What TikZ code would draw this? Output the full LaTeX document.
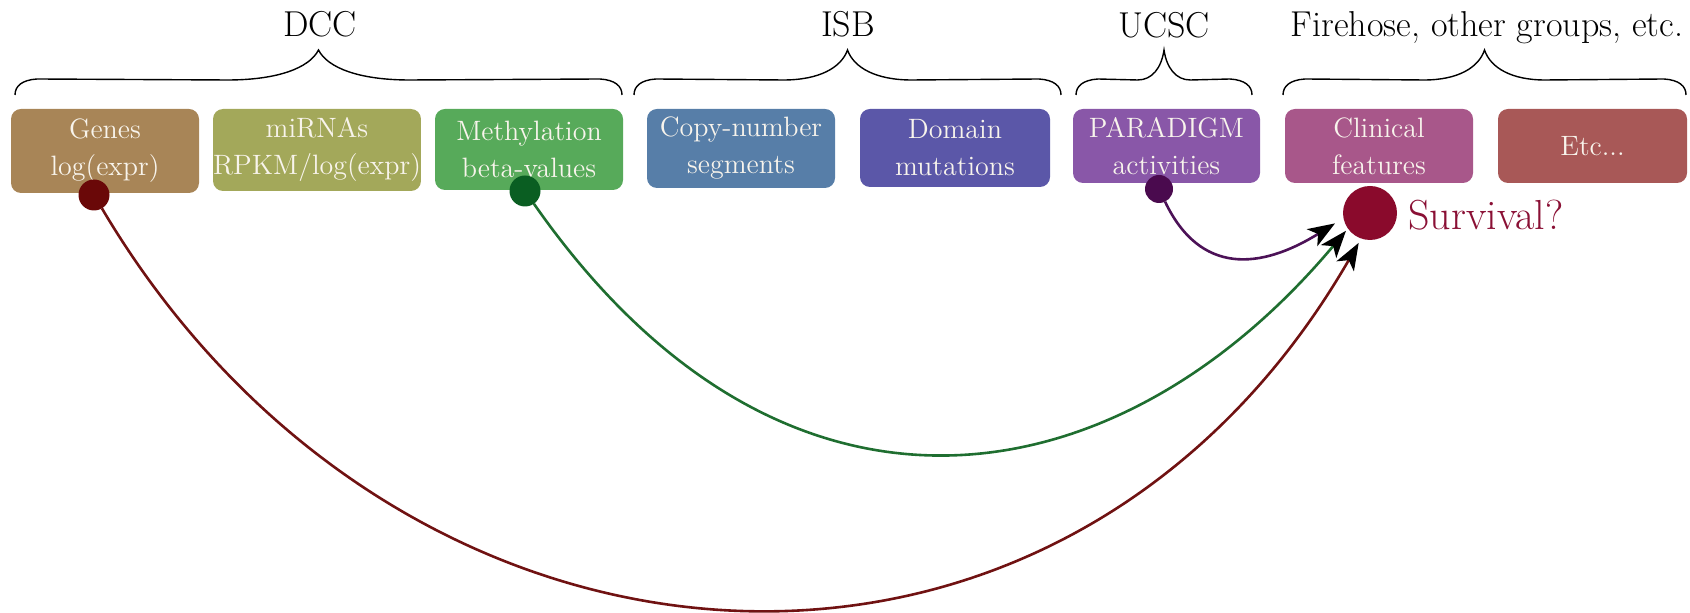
\documentclass[tikz,border=0pt]{standalone}
\usetikzlibrary{arrows.meta}
\definecolor{genesC}{HTML}{A88557}
\definecolor{mirnaC}{HTML}{A3A85A}
\definecolor{methC}{HTML}{57AA5A}
\definecolor{copyC}{HTML}{577EA8}
\definecolor{domainC}{HTML}{5B57A8}
\definecolor{paraC}{HTML}{8957A8}
\definecolor{clinC}{HTML}{A8578A}
\definecolor{etcC}{HTML}{A85857}
\definecolor{boxtext}{HTML}{F8F4EC}
\definecolor{gdotC}{HTML}{6A0808}
\definecolor{mdotC}{HTML}{0A5E22}
\definecolor{pdotC}{HTML}{4A0A4E}
\definecolor{survC}{HTML}{8A0A2C}
\definecolor{redL}{HTML}{701212}
\definecolor{greenL}{HTML}{1F6E30}
\definecolor{purpL}{HTML}{4C1257}
\definecolor{survT}{HTML}{8A1035}
\newcommand{\grpbrace}[2]{%
  \pgfmathsetmacro{\bm}{(#1+#2)/2}%
  \pgfmathsetmacro{\br}{0.15*(#2-#1)}%
  \draw[bracestyle] (#1,95) .. controls (#1,86) and (#1+7,80) .. (#1+22,79)
    -- (\bm-\br,80) .. controls (\bm-0.45*\br,80) and (\bm-0.1*\br,68) .. (\bm,50)
    .. controls (\bm+0.1*\br,68) and (\bm+0.45*\br,80) .. (\bm+\br,80)
    -- (#2-22,79) .. controls (#2-7,80) and (#2,86) .. (#2,95);}
\tikzset{
  databox/.style={rounded corners=5pt, inner sep=0pt, outer sep=0pt, text=boxtext,
    font=\fontsize{14}{18.5}\selectfont, align=center},
  grplabel/.style={font=\fontsize{18}{21}\selectfont, anchor=base, inner sep=0pt},
  bracestyle/.style={line width=0.7pt, black},
  srcdot/.style={circle, inner sep=0pt, outer sep=0pt, minimum size=#1},
  link/.style={line width=1.3pt, -{Stealth[length=13.5pt,width=10pt,inset=3.5pt,color=black]}},
}
\begin{document}
\begin{tikzpicture}[x=0.5pt,y=-0.5pt]
\useasboundingbox (0,0) rectangle (1690,613);
% group labels
\node[grplabel] (dcc) at (320,37) {DCC};
\node[grplabel] (isb) at (848,37) {ISB};
\node[grplabel] (ucsc) at (1164,38) {UCSC};
\node[grplabel] (fire) at (1487,37) {Firehose, other groups, etc.};
% braces
\grpbrace{15}{622}
\grpbrace{634}{1061}
\grpbrace{1076}{1252}
\grpbrace{1283}{1686}
% data boxes
\node[databox, fill=genesC, minimum width=94pt, minimum height=42pt] (genes) at (105,151) {Genes\\log(expr)};
\node[databox, fill=mirnaC, minimum width=101pt, minimum height=41pt] (mirna) at (317,150) {miRNAs\\RPKM/log(expr)};
\node[databox, fill=methC, minimum width=94pt, minimum height=40.5pt] (meth) at (529,149.5) {Methylation\\beta-values};
\node[databox, fill=copyC, minimum width=94pt, minimum height=39.5pt] (copy) at (741,148.5) {Copy-number\\segments};
\node[databox, fill=domainC, minimum width=95pt, minimum height=39pt] (domain) at (955,148) {Domain\\mutations};
\node[databox, fill=paraC, minimum width=93.5pt, minimum height=37pt] (para) at (1166.5,146) {PARADIGM\\activities};
\node[databox, fill=clinC, minimum width=94pt, minimum height=37pt] (clin) at (1379,146) {Clinical\\features};
\node[databox, fill=etcC, minimum width=94.5pt, minimum height=37pt] (etc) at (1592.5,146) {Etc...};
% dots
\node[srcdot=15.5pt, fill=gdotC] (gdot) at (94,195) {};
\node[srcdot=15.5pt, fill=mdotC] (mdot) at (525,191) {};
\node[srcdot=14pt, fill=pdotC] (pdot) at (1159,189) {};
\node[srcdot=27pt, fill=survC] (surv) at (1370,213) {};
\node[anchor=base west, inner sep=0pt, text=survT, font=\fontsize{21}{24}\selectfont] (survlbl) at (1408,230) {Survival?};
% connectors
\draw[link, redL, shorten >=2.5pt] (gdot) .. controls (400,712) and (1060,760) .. (surv.251);
\draw[link, greenL, shorten >=1.5pt] (mdot) .. controls (783,561) and (1117,504) .. (surv.215);
\draw[link, purpL, shorten >=5pt] (pdot) .. controls (1200,275) and (1260,270) .. (surv.191);
\end{tikzpicture}
\end{document}
